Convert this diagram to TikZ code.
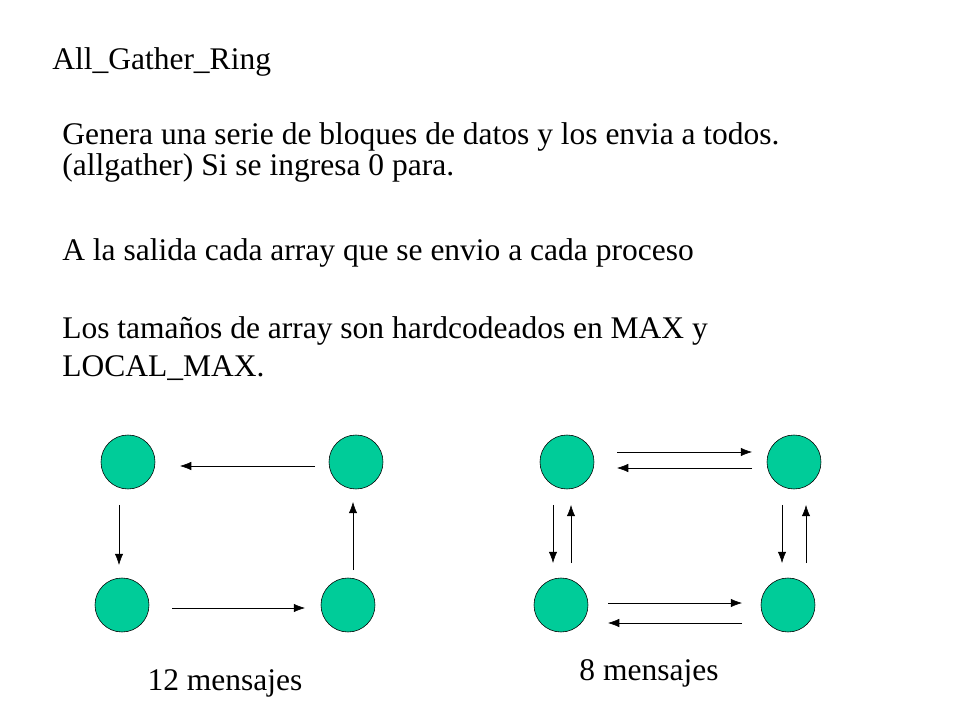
\documentclass[tikz,border=0pt]{standalone}
\usepackage{fontspec}
\setmainfont{Liberation Serif}
\usetikzlibrary{arrows.meta}
\definecolor{nodegreen}{HTML}{00CC99}
\begin{document}
\begin{tikzpicture}
        [x=0.025cm, y=-0.025cm, font=\fontsize{22.4}{26}\selectfont, >={Latex[length=8pt,width=6pt]}]
        \useasboundingbox (0,0) rectangle (960,720);

        \tikzset{proc/.style={circle, draw=black, fill=nodegreen, minimum size=1.35cm, inner sep=0pt},
                 txt/.style={anchor=west, inner sep=0pt}}

        \node[txt] (title) at (52, 62) {All\_Gather\_Ring};
        \node[txt] (l1) at (62, 137) {Genera una serie de bloques de datos y los envia  a todos.};
        \node[txt] (l2) at (62, 168) {(allgather) Si se ingresa 0 para.};
        \node[txt] (l3) at (62, 253) {A la salida cada array que se envio a cada proceso};
        \node[txt] (l4) at (62, 331) {Los  tamaños de array son hardcodeados en MAX y};
        \node[txt] (l5) at (62, 368) {LOCAL\_MAX.};

        % ring
        \node[proc] (ra) at (128, 462) {};
        \node[proc] (rb) at (356, 462) {};
        \node[proc] (rc) at (122, 605) {};
        \node[proc] (rd) at (348, 605) {};

        \coordinate (ab1) at (315, 466); \coordinate (ab2) at (180, 466);
        \coordinate (ac1) at (119, 505); \coordinate (ac2) at (119, 565);
        \coordinate (cd1) at (172, 608); \coordinate (cd2) at (305, 608);
        \coordinate (db1) at (353, 570); \coordinate (db2) at (353, 502);

        \draw[->] (ab1) -- (ab2);
        \draw[->] (ac1) -- (ac2);
        \draw[->] (cd1) -- (cd2);
        \draw[->] (db1) -- (db2);

        % full exchange
        \node[proc] (fa) at (567, 462) {};
        \node[proc] (fb) at (794, 462) {};
        \node[proc] (fc) at (561, 605) {};
        \node[proc] (fd) at (788, 605) {};

        \draw[->] (617, 452) coordinate (fab1) -- (752, 452) coordinate (fab2);
        \draw[->] (752, 468) coordinate (fba1) -- (617, 468) coordinate (fba2);
        \draw[->] (553, 505) coordinate (fac1) -- (553, 563) coordinate (fac2);
        \draw[->] (571, 563) coordinate (fca1) -- (571, 505) coordinate (fca2);
        \draw[->] (782, 505) coordinate (fbd1) -- (782, 563) coordinate (fbd2);
        \draw[->] (806, 563) coordinate (fdb1) -- (806, 505) coordinate (fdb2);
        \draw[->] (608, 603) coordinate (fcd1) -- (742, 603) coordinate (fcd2);
        \draw[->] (742, 623) coordinate (fdc1) -- (608, 623) coordinate (fdc2);

        \node (lring) at (225, 683) {12 mensajes};
        \node (lfull) at (649, 673) {8 mensajes};
    \end{tikzpicture}
\end{document}
